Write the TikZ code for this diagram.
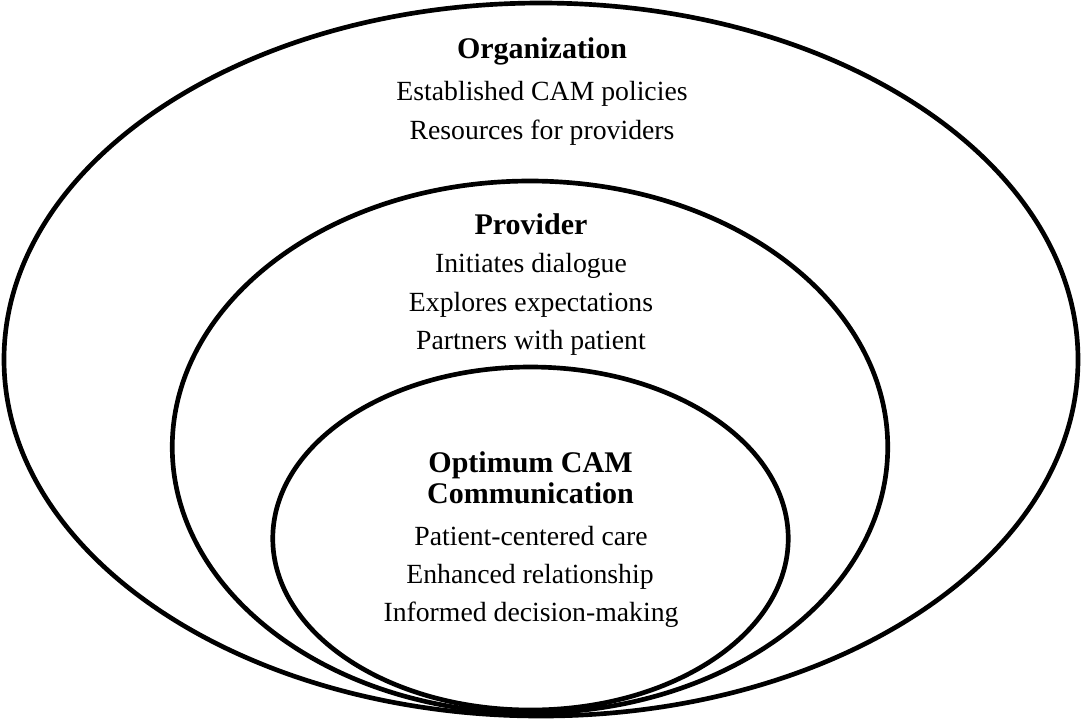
\documentclass[tikz,border=0pt]{standalone}
\usepackage{fontspec}
\setmainfont{Liberation Serif}
\usepackage{tikz}
\usetikzlibrary{shapes.geometric}
\newcommand{\ringwidth}{3.5pt}
\tikzstyle{ring}=[draw, ellipse, line width=\ringwidth, inner sep=0, outer sep=0]
\tikzstyle{heading}=[inner sep=0, anchor=base, font=\fontsize{22.5pt}{27pt}\selectfont\bfseries]
\tikzstyle{entry}=[inner sep=0, anchor=base, font=\fontsize{20.8pt}{25pt}\selectfont]
\tikzstyle{rings}=[x=0.75pt, y=-0.75pt,
                   % Fix the page to the size of the reference.
                   execute at begin picture={\useasboundingbox (0, 0) rectangle (1082, 719);}]

\begin{document}
\begin{tikzpicture}[rings]
        \node[ring, minimum width=805.5pt, minimum height=534.75pt] (organization) at (541, 359.5) {};
        \node[ring, minimum width=536.6pt, minimum height=399pt]    (provider) at (530, 447) {};
        \node[ring, minimum width=386.6pt, minimum height=257.25pt] (optimum) at (530.5, 538.5) {};
        \node[heading] (orgtitle) at (542, 58.5)  {Organization};
        \node[entry]   (org1)     at (542, 100.5) {Established CAM policies};
        \node[entry]   (org2)     at (542, 139.3) {Resources for providers};
        \node[heading] (provtitle) at (531, 234) {Provider};
        \node[entry]   (prov1)     at (531, 272) {Initiates dialogue};
        \node[entry]   (prov2)     at (531, 311) {Explores expectations};
        \node[entry]   (prov3)     at (531, 349.5) {Partners with patient};
        \node[heading] (opttitle1) at (530.5, 472.5) {Optimum CAM};
        \node[heading] (opttitle2) at (530.5, 503) {Communication};
        \node[entry]   (opt1)      at (531, 545) {Patient-centered care};
        \node[entry]   (opt2)      at (530, 583) {Enhanced relationship};
        \node[entry]   (opt3)      at (531, 621) {Informed decision-making};
    \end{tikzpicture}
\end{document}
